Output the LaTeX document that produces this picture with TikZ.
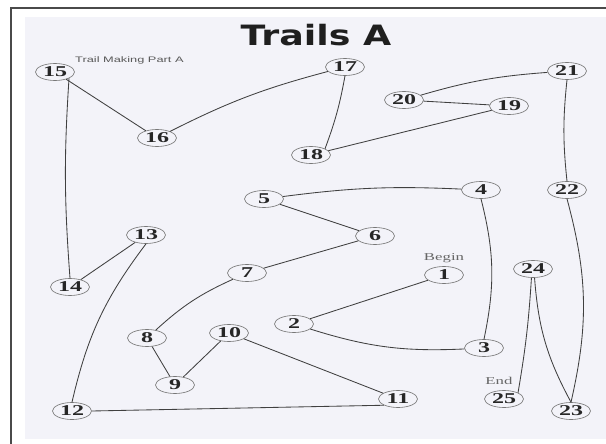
\documentclass[tikz,border=0pt]{standalone}
\usepackage{fontspec}
\usetikzlibrary{shapes.geometric}
\newfontfamily\numfont[FakeStretch=1.6]{Liberation Serif}
\newfontfamily\titlefont[FakeStretch=1.3]{DejaVu Sans}
\newfontfamily\notefont[FakeStretch=1.6]{Liberation Sans}
\definecolor{tmpaper}{HTML}{F3F3F9}
\definecolor{tmline}{HTML}{404040}
\definecolor{tmring}{HTML}{777777}
\definecolor{tmframe}{HTML}{4A4A4A}

\begin{document}
\begin{tikzpicture}[x=1pt, y=-1pt,
          ring/.style={ellipse, draw=tmring, line width=0.65pt, minimum width=39pt, minimum height=17pt, inner sep=0pt, text=black!85, font=\numfont\bfseries\fontsize{15}{15}\selectfont},
          trail/.style={draw=tmline, line width=0.85pt},
          lbl/.style={text=black!60, font=\numfont\fontsize{10.5}{11}\selectfont}]
        \useasboundingbox (0,0) rectangle (606,444);
        \fill[tmpaper] (25,17) rectangle (606,439);
        \draw[tmframe, line width=2pt] (11,444) -- (11,8) -- (606,8);
        \node[anchor=base, text=black!88, font=\titlefont\bfseries\fontsize{28}{30}\selectfont] (title) at (316,46) {Trails A};
        \node[anchor=base west, inner sep=0pt, text=black!65, font=\notefont\fontsize{8}{9}\selectfont] (sub) at (75,63) {Trail Making Part A};
        \node[lbl] (begin) at (444,258) {Begin};
        \node[lbl] (end) at (499,381) {End};
        \node[ring] (n1) at (444,275) {1};
        \node[ring] (n2) at (294,324) {2};
        \node[ring] (n3) at (484,348) {3};
        \node[ring] (n4) at (481,190) {4};
        \node[ring] (n5) at (264,199) {5};
        \node[ring] (n6) at (375,236) {6};
        \node[ring] (n7) at (247,273) {7};
        \node[ring] (n8) at (147,338) {8};
        \node[ring] (n9) at (175,385) {9};
        \node[ring] (n10) at (229,333) {10};
        \node[ring] (n11) at (398,399) {11};
        \node[ring] (n12) at (72,411) {12};
        \node[ring] (n13) at (146,235) {13};
        \node[ring] (n14) at (70,287) {14};
        \node[ring] (n15) at (55,72) {15};
        \node[ring] (n16) at (157,138) {16};
        \node[ring] (n17) at (345,67) {17};
        \node[ring] (n18) at (311,155) {18};
        \node[ring] (n19) at (509,106) {19};
        \node[ring] (n20) at (404,100) {20};
        \node[ring] (n21) at (567,71) {21};
        \node[ring] (n22) at (567,190) {22};
        \node[ring] (n23) at (571,411) {23};
        \node[ring] (n24) at (533,269) {24};
        \node[ring] (n25) at (504,399) {25};
        \draw[trail] (n1) -- (n2);
        \draw[trail] (n2) to[bend right=10] (n3);
        \draw[trail] (n4.south) to[bend left=13] (n3.north);
        \draw[trail] (n4) to[bend right=5] (n5);
        \draw[trail] (n5) -- (n6);
        \draw[trail] (n6) -- (n7);
        \draw[trail] (n8) to[bend left=9] (n7);
        \draw[trail] (n8) -- (n9);
        \draw[trail] (n9) -- (n10);
        \draw[trail] (n10) -- (n11);
        \draw[trail] (n11.south west) -- (n12.east);
        \draw[trail] (n12.north) to[bend left=12] (n13.south);
        \draw[trail] (n13) -- (n14);
        \draw[trail] (n15.south east) to[bend right=4] (n14.north);
        \draw[trail] (n15) -- (n16);
        \draw[trail] (n16) to[bend left=6] (n17);
        \draw[trail] (n17.south) to[bend left=5] (n18.north east);
        \draw[trail] (n18) -- (n19);
        \draw[trail] (n19) -- (n20);
        \draw[trail] (n20) to[bend left=6] (n21);
        \draw[trail] (n21.south) to[bend right=6] (n22.north);
        \draw[trail] (n22.south) to[bend left=14] (n23.north);
        \draw[trail] (n23.north) to[bend left=12] (n24.-80);
        \draw[trail] (n24.-100) to[bend left=3] (n25.north east);
      \end{tikzpicture}
\end{document}
